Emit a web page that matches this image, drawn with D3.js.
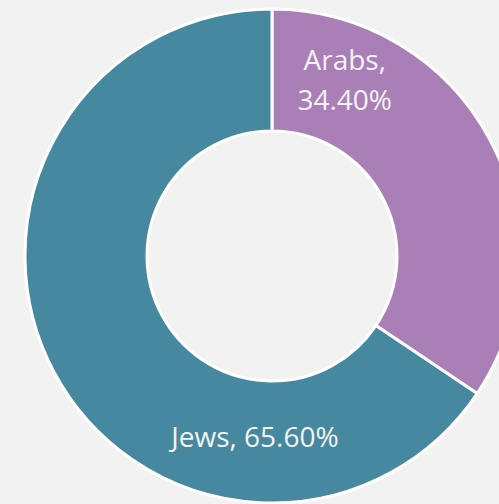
<!DOCTYPE html>
<html>
<head>
<meta charset="utf-8">
<style>
  body { margin: 0; background: #f2f2f2; overflow: hidden; }
  svg { display: block; }
</style>
</head>
<body>
<div id="donut"></div>
<script src="https://d3js.org/d3.v7.min.js"></script>
<script>
// data
var groups = ["Arabs", "Jews"];
var shares = [34.4, 65.6];
var colors = ["#aa7eb7", "#46889f"];

var width = 499, height = 504;
var cx = 272, cy = 256;
var outerR = 247, innerR = 125;

var svg = d3.select("#donut").append("svg")
    .attr("width", width)
    .attr("height", height);

svg.append("rect")
    .attr("width", width)
    .attr("height", height)
    .attr("fill", "#f2f2f2");

var g = svg.append("g").attr("transform", "translate(" + cx + "," + cy + ")");

var data = groups.map(function(d, i) { return {name: d, value: shares[i], color: colors[i]}; });

var pie = d3.pie().sort(null).value(function(d) { return d.value; });
var arc = d3.arc().innerRadius(innerR).outerRadius(outerR);

var arcs = pie(data);

g.selectAll("path")
    .data(arcs)
  .enter().append("path")
    .attr("d", arc)
    .attr("fill", function(d) { return d.data.color; })
    .attr("stroke", "#ffffff")
    .attr("stroke-width", 3)
    .attr("stroke-linejoin", "round");

// label placement (angle in degrees clockwise from top, radius, stacked lines)
var labelAt = {
  Arabs: {angle: 23.7, r: 181, stacked: true},
  Jews: {angle: 185.4, r: 182, stacked: false}
};

var fmt = d3.format(".2f");

arcs.forEach(function(d) {
  var p = labelAt[d.data.name];
  var a = p.angle * Math.PI / 180;
  var x = p.r * Math.sin(a), y = -p.r * Math.cos(a);
  var t = g.append("text")
      .attr("x", x)
      .attr("y", y)
      .attr("text-anchor", "middle")
      .attr("fill", "#f4f4f4")
      .style("font-family", "'Open Sans', sans-serif")
      .style("font-size", "28px");
  if (p.stacked) {
    t.append("tspan").attr("x", x).attr("dy", -20).text(d.data.name + ",");
    t.append("tspan").attr("x", x).attr("dy", 40).text(fmt(d.data.value) + "%");
  } else {
    t.attr("dy", 10).text(d.data.name + ", " + fmt(d.data.value) + "%");
  }
});
</script>
</body>
</html>
